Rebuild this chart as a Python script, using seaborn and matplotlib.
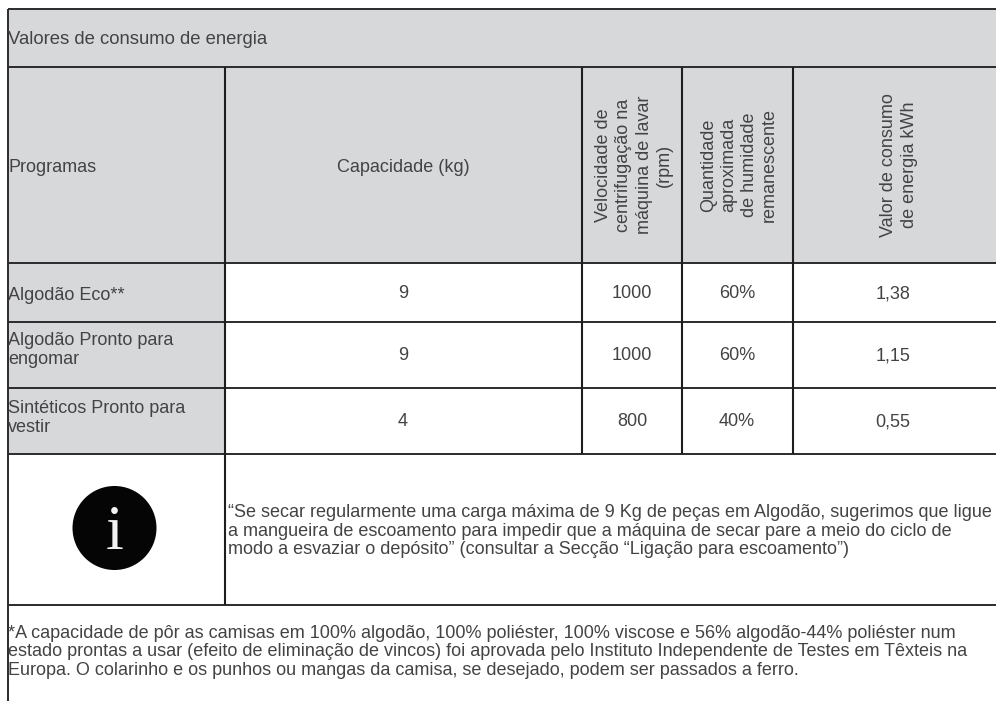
import matplotlib
matplotlib.use('Agg')
import matplotlib.pyplot as plt
import seaborn as sns

title = 'Valores de consumo de energia'
headers = ['Programas', 'Capacidade (kg)',
           'Velocidade de\ncentrifugação na\nmáquina de lavar\n(rpm)',
           'Quantidade\naproximada\nde humidade\nremanescente',
           'Valor de consumo\nde energia kWh']
programas = ['Algodão Eco**', 'Algodão Pronto para\nengomar', 'Sintéticos Pronto para\nvestir']
capacidade = ['9', '9', '4']
rpm = ['1000', '1000', '800']
humidade = ['60%', '60%', '40%']
consumo = ['1,38', '1,15', '0,55']
nota = ('“Se secar regularmente uma carga máxima de 9 Kg de peças em Algodão, sugerimos que ligue\n'
        'a mangueira de escoamento para impedir que a máquina de secar pare a meio do ciclo de\n'
        'modo a esvaziar o depósito” (consultar a Secção “Ligação para escoamento”)')
rodape = ('*A capacidade de pôr as camisas em 100% algodão, 100% poliéster, 100% viscose e 56% algodão-44% poliéster num\n'
          'estado prontas a usar (efeito de eliminação de vincos) foi aprovada pelo Instituto Independente de Testes em Têxteis na\n'
          'Europa. O colarinho e os punhos ou mangas da camisa, se desejado, podem ser passados a ferro.')

# table grid, in image pixels
col_x = [7.5, 225, 582, 682, 793, 996]
row_y = [9, 67, 263, 322, 388, 454, 605]
row_mid = [294, 356, 422]
label_mid = [296, 350, 418]

grey = '#d7d8da'
ink = '#434345'
rule = '#2b2b2d'
fs = 13.0

sns.set_theme(style='white')
plt.rcParams['font.family'] = ['Liberation Sans', 'DejaVu Sans']

fig = plt.figure(figsize=(9.96, 7.01), dpi=100)
ax = fig.add_axes([0, 0, 1, 1])
ax.set_xlim(0, 996)
ax.set_ylim(701, 0)
ax.axis('off')

# grey cells
ax.fill_between([col_x[0], 996], row_y[0], row_y[2], color=grey, lw=0)
ax.fill_between([col_x[0], col_x[1]], row_y[2], row_y[5], color=grey, lw=0)

# rules
ax.hlines(row_y, col_x[0], 996, color=rule, lw=1.4)
ax.vlines(col_x[0], row_y[0], 701, color=rule, lw=1.4)
ax.vlines(col_x[1], row_y[1], row_y[6], color='#1e1e20', lw=1.5)
ax.vlines(col_x[2:5], row_y[1], row_y[5], color='#1e1e20', lw=1.5)

ax.text(8, 40, title, fontsize=13.3, color=ink, va='center')
ax.text(8, 167, headers[0], fontsize=fs, color=ink, va='center')
ax.text(403, 167, headers[1], fontsize=fs, color=ink, va='center', ha='center')
for i, xc in enumerate([634, 739, 899]):
    ax.text(xc, 165, headers[i + 2], fontsize=fs, color=ink, rotation=90,
            va='center', ha='center', multialignment='center', linespacing=1.25)

for i, y in enumerate(row_mid):
    ax.text(8, label_mid[i], programas[i], fontsize=fs, color=ink, va='center', linespacing=1.1)
    ax.text(403, y, capacidade[i], fontsize=fs, color=ink, va='center', ha='center')
    ax.text(632, y, rpm[i], fontsize=fs, color=ink, va='center', ha='center')
    ax.text(737, y, humidade[i], fontsize=fs, color=ink, va='center', ha='center')
    ax.text(893, y, consumo[i], fontsize=fs, color=ink, va='center', ha='center')

ax.text(228, 531, nota, fontsize=fs, color=ink, va='center', linespacing=1.12)
ax.text(8, 652, rodape, fontsize=fs, color=ink, va='center', linespacing=1.1)

# info icon
ax.add_patch(plt.Circle((114.5, 528), 42, color='#050505', lw=0))
ax.text(114.5, 534, 'i', fontsize=46, color='#f2f2f2', ha='center', va='center',
        family='Liberation Serif')

plt.savefig('out.png', dpi=100)
